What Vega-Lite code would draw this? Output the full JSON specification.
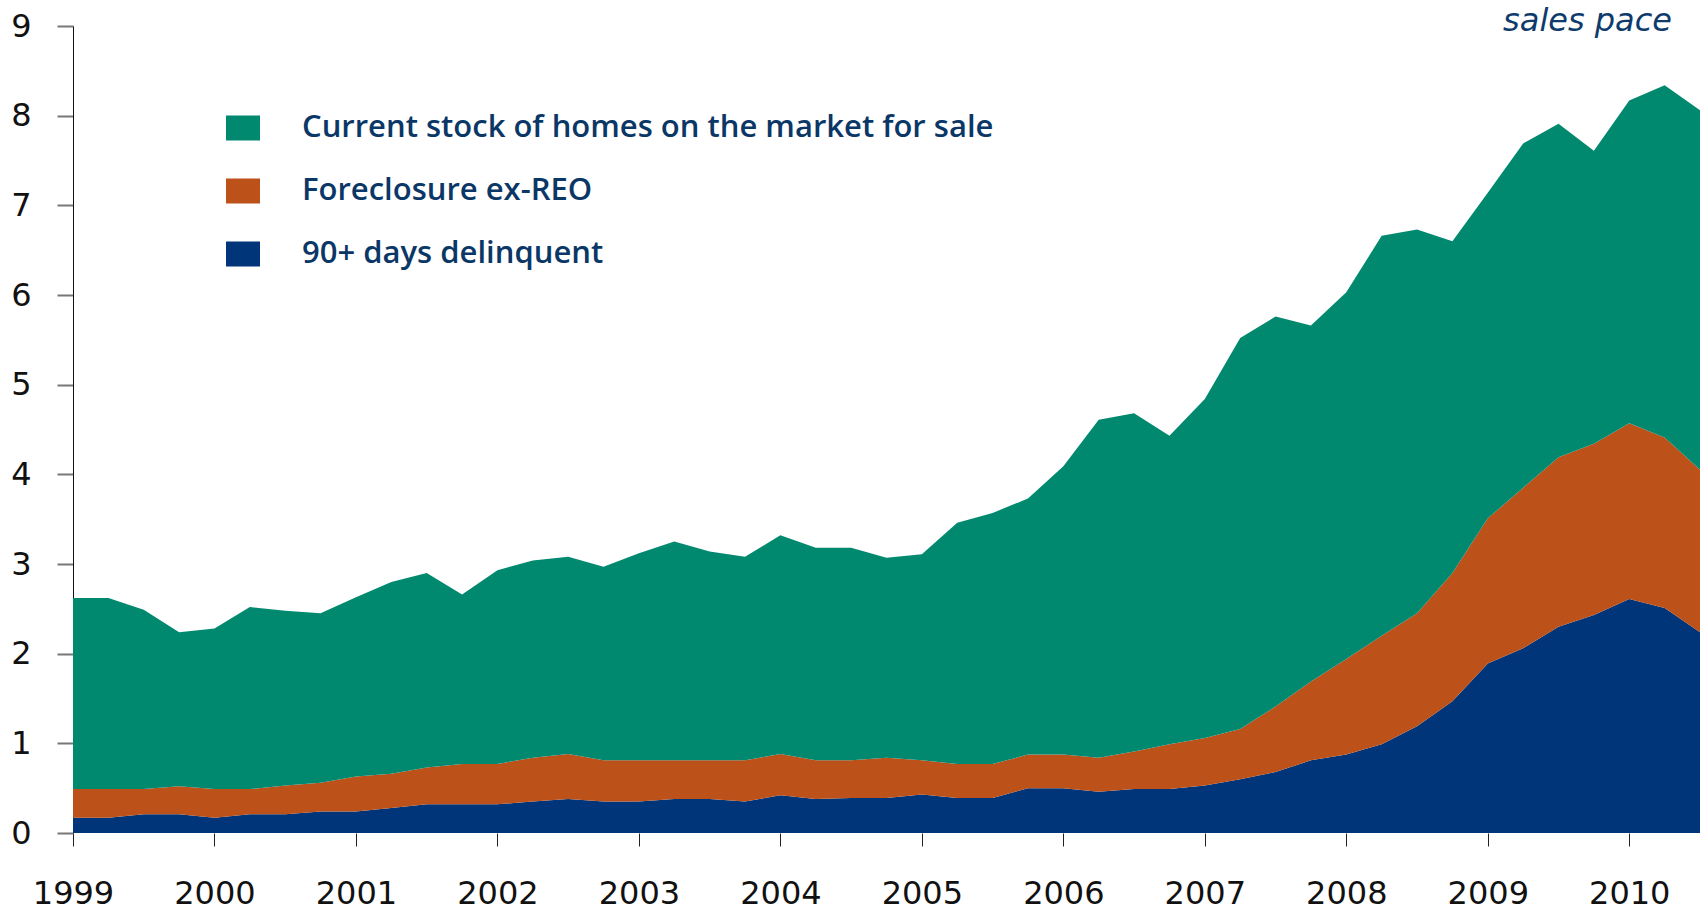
{
  "$schema": "https://vega.github.io/schema/vega-lite/v6.json",
  "width": 1627,
  "height": 807,
  "autosize": {"type": "none"},
  "padding": {"left": 73, "top": 26, "right": 6, "bottom": 77},
  "background": "white",
  "title": {
    "text": "sales pace",
    "orient": "top",
    "anchor": "end",
    "frame": "group",
    "offset": -53,
    "dx": -28,
    "baseline": "alphabetic",
    "font": "DejaVu Sans",
    "fontStyle": "italic",
    "fontWeight": "normal",
    "fontSize": 32,
    "color": "#0E3A6C"
  },
  "data": {
    "values": [
      {"t": 1999.0, "d": 0.17, "f": 0.32, "s": 2.13},
      {"t": 1999.25, "d": 0.17, "f": 0.32, "s": 2.13},
      {"t": 1999.5, "d": 0.21, "f": 0.28, "s": 2.00},
      {"t": 1999.75, "d": 0.21, "f": 0.31, "s": 1.72},
      {"t": 2000.0, "d": 0.17, "f": 0.32, "s": 1.79},
      {"t": 2000.25, "d": 0.21, "f": 0.28, "s": 2.03},
      {"t": 2000.5, "d": 0.21, "f": 0.32, "s": 1.95},
      {"t": 2000.75, "d": 0.24, "f": 0.32, "s": 1.89},
      {"t": 2001.0, "d": 0.24, "f": 0.39, "s": 2.00},
      {"t": 2001.25, "d": 0.28, "f": 0.38, "s": 2.14},
      {"t": 2001.5, "d": 0.32, "f": 0.41, "s": 2.17},
      {"t": 2001.75, "d": 0.32, "f": 0.45, "s": 1.89},
      {"t": 2002.0, "d": 0.32, "f": 0.45, "s": 2.16},
      {"t": 2002.25, "d": 0.35, "f": 0.49, "s": 2.20},
      {"t": 2002.5, "d": 0.38, "f": 0.50, "s": 2.20},
      {"t": 2002.75, "d": 0.35, "f": 0.46, "s": 2.16},
      {"t": 2003.0, "d": 0.35, "f": 0.46, "s": 2.31},
      {"t": 2003.25, "d": 0.38, "f": 0.43, "s": 2.44},
      {"t": 2003.5, "d": 0.38, "f": 0.43, "s": 2.33},
      {"t": 2003.75, "d": 0.35, "f": 0.46, "s": 2.27},
      {"t": 2004.0, "d": 0.42, "f": 0.46, "s": 2.44},
      {"t": 2004.25, "d": 0.38, "f": 0.43, "s": 2.37},
      {"t": 2004.5, "d": 0.39, "f": 0.42, "s": 2.37},
      {"t": 2004.75, "d": 0.39, "f": 0.45, "s": 2.23},
      {"t": 2005.0, "d": 0.43, "f": 0.38, "s": 2.30},
      {"t": 2005.25, "d": 0.39, "f": 0.38, "s": 2.69},
      {"t": 2005.5, "d": 0.39, "f": 0.38, "s": 2.80},
      {"t": 2005.75, "d": 0.50, "f": 0.375, "s": 2.855},
      {"t": 2006.0, "d": 0.50, "f": 0.375, "s": 3.215},
      {"t": 2006.25, "d": 0.46, "f": 0.38, "s": 3.77},
      {"t": 2006.5, "d": 0.49, "f": 0.42, "s": 3.77},
      {"t": 2006.75, "d": 0.49, "f": 0.50, "s": 3.44},
      {"t": 2007.0, "d": 0.53, "f": 0.53, "s": 3.78},
      {"t": 2007.25, "d": 0.60, "f": 0.56, "s": 4.36},
      {"t": 2007.5, "d": 0.68, "f": 0.73, "s": 4.35},
      {"t": 2007.75, "d": 0.81, "f": 0.88, "s": 3.97},
      {"t": 2008.0, "d": 0.875, "f": 1.065, "s": 4.09},
      {"t": 2008.25, "d": 0.99, "f": 1.21, "s": 4.46},
      {"t": 2008.5, "d": 1.19, "f": 1.26, "s": 4.28},
      {"t": 2008.75, "d": 1.47, "f": 1.43, "s": 3.70},
      {"t": 2009.0, "d": 1.89, "f": 1.62, "s": 3.63},
      {"t": 2009.25, "d": 2.06, "f": 1.79, "s": 3.84},
      {"t": 2009.5, "d": 2.30, "f": 1.89, "s": 3.72},
      {"t": 2009.75, "d": 2.43, "f": 1.91, "s": 3.27},
      {"t": 2010.0, "d": 2.61, "f": 1.96, "s": 3.60},
      {"t": 2010.25, "d": 2.51, "f": 1.90, "s": 3.93},
      {"t": 2010.5, "d": 2.24, "f": 1.81, "s": 4.01}
    ]
  },
  "transform": [{"fold": ["d", "f", "s"], "as": ["key", "value"]}],
  "mark": {"type": "area", "interpolate": "linear", "strokeWidth": 0},
  "encoding": {
    "x": {
      "field": "t",
      "type": "quantitative",
      "scale": {"domain": [1999, 2010.5], "nice": false, "zero": false},
      "axis": {
        "title": null,
        "values": [1999, 2000, 2001, 2002, 2003, 2004, 2005, 2006, 2007, 2008, 2009, 2010],
        "format": "d",
        "grid": false,
        "domain": false,
        "ticks": true,
        "tickSize": 13,
        "tickColor": "#222222",
        "tickWidth": 1,
        "labelFont": "DejaVu Sans",
        "labelFontSize": 32,
        "labelColor": "#111111",
        "labelPadding": 32,
        "labelFlush": false,
        "labelOverlap": false
      }
    },
    "y": {
      "field": "value",
      "type": "quantitative",
      "stack": "zero",
      "scale": {"domain": [0, 9], "nice": false},
      "axis": {
        "title": null,
        "values": [0, 1, 2, 3, 4, 5, 6, 7, 8, 9],
        "grid": false,
        "domain": true,
        "domainColor": "#111111",
        "domainWidth": 1,
        "tickSize": 16,
        "tickColor": "#777777",
        "tickWidth": 2,
        "labelFont": "DejaVu Sans",
        "labelFontSize": 32,
        "labelColor": "#111111",
        "labelPadding": 26,
        "labelFlush": false,
        "labelOverlap": false
      }
    },
    "order": {"field": "key", "sort": "ascending"},
    "color": {
      "field": "key",
      "type": "nominal",
      "scale": {"domain": ["s", "f", "d"], "range": ["#00896F", "#BD511A", "#003579"]},
      "legend": {
        "title": null,
        "orient": "none",
        "legendX": 153,
        "legendY": 85,
        "padding": 0,
        "symbolType": "M-1,-0.735H1V0.735H-1Z",
        "symbolSize": 1156,
        "symbolStrokeWidth": 0,
        "symbolOpacity": 1,
        "labelExpr": "datum.label == 's' ? 'Current stock of homes on the market for sale' : datum.label == 'f' ? 'Foreclosure ex-REO' : '90+ days delinquent'",
        "labelFont": "Open Sans",
        "labelFontSize": 31,
        "labelFontWeight": 600,
        "labelColor": "#0B3767",
        "labelOffset": 42,
        "labelLimit": 0,
        "rowPadding": 31
      }
    }
  },
  "config": {
    "view": {"stroke": null}
  }
}
